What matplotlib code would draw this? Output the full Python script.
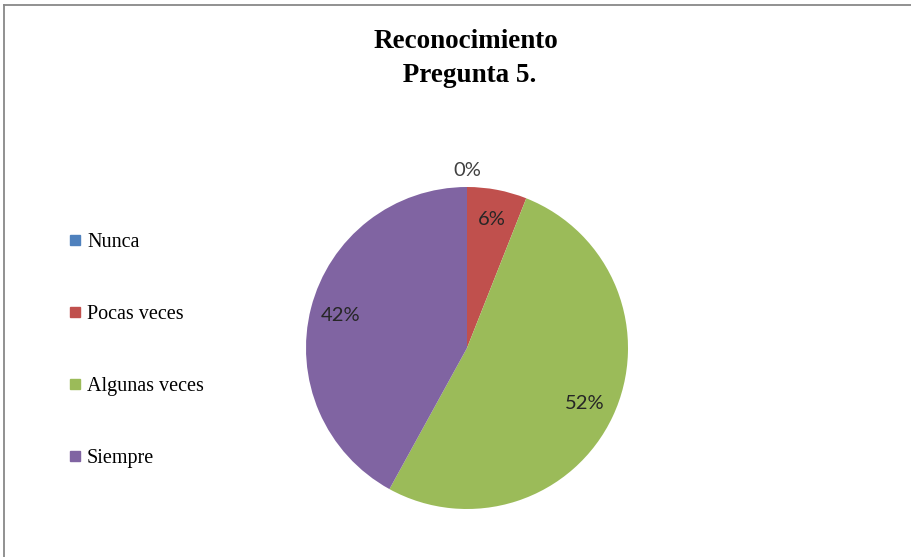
import matplotlib.pyplot as plt
from matplotlib.lines import Line2D

categories = ["Nunca", "Pocas veces", "Algunas veces", "Siempre"]
values = [0, 6, 52, 42]
colors = ["#4F81BD", "#C0504D", "#9BBB59", "#8064A2"]
title = "Reconocimiento\n Pregunta 5."

W, H = 912, 557
fig = plt.figure(figsize=(W / 100, H / 100), dpi=100)

# chart border (left and top edges visible)
fig.add_artist(Line2D([4.5 / W, 4.5 / W], [0, 1 - 5 / H], color="#888888", lw=1.3))
fig.add_artist(Line2D([4.5 / W, 1], [1 - 5 / H, 1 - 5 / H], color="#888888", lw=1.3))

# pie: centre ~ (467, 348), radius ~161 px
cx, cy, r = 467, 348, 161
ax = fig.add_axes([(cx - r) / W, (H - cy - r) / H, 2 * r / W, 2 * r / H])
wedges, texts, autotexts = ax.pie(
    values, colors=colors, startangle=90, counterclock=False,
    autopct=lambda p: f"{p:.0f}%", pctdistance=0.81,
    wedgeprops=dict(linewidth=0),
    textprops=dict(family="Lato", fontsize=14.5, color="#262626"),
)
ax.set_xlim(-1, 1)
ax.set_ylim(-1, 1)
ax.set_aspect("equal")

# zero slices get their label pushed outside the pie
for v, t in zip(values, autotexts):
    if v == 0:
        x, y = t.get_position()
        t.set_position((x * 1.1 / 0.81, y * 1.1 / 0.81))
        t.set_color("#404040")

fig.text(466 / W, 1 - 29 / H, title, ha="center", va="top",
         family="Liberation Serif", fontweight="bold", fontsize=19.5,
         linespacing=1.45)

handles = [Line2D([], [], marker="s", linestyle="none", markersize=7,
                  markerfacecolor=c, markeredgecolor=c) for c in colors]
fig.legend(handles, categories, loc="upper left",
           bbox_to_anchor=(69 / W, 1 - 233 / H), frameon=False,
           prop=dict(family="Liberation Serif", size=14.5),
           handlelength=0.6, handletextpad=0.3, labelspacing=2.62,
           borderpad=0, borderaxespad=0)

fig.savefig("out.png", dpi=100, facecolor="white")
